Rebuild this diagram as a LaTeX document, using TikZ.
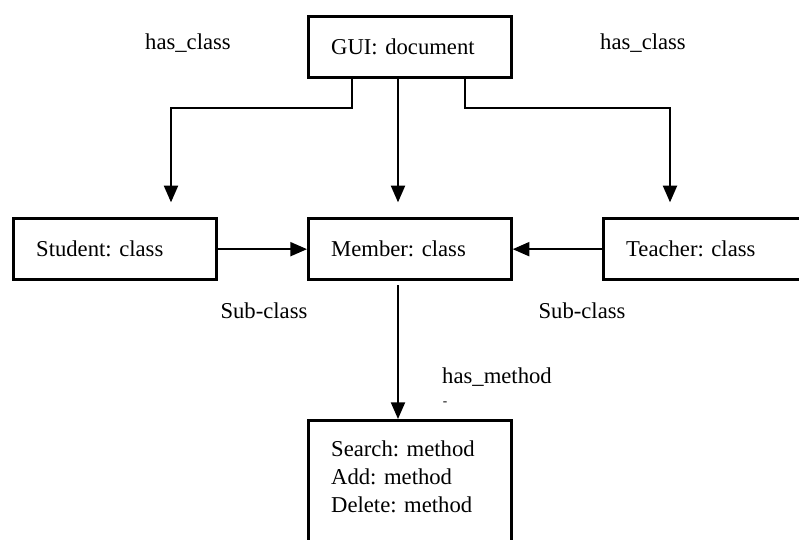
\documentclass[tikz,border=0pt]{standalone}
\usepackage{fontspec}
\setmainfont{Liberation Serif}
\usetikzlibrary{arrows.meta}
\tikzset{
  box/.style={draw, line width=2.25pt, anchor=north west, minimum height=46pt,
    text width=118pt, inner xsep=17pt, align=left},
  conn/.style={line width=1.5pt, -{Triangle[length=12.5pt,width=10.5pt]}},
  lbl/.style={inner sep=0pt}
}
\begin{document}
\frenchspacing
\begin{tikzpicture}[x=0.75pt,y=-0.75pt,font=\fontsize{17}{21}\selectfont]
                \useasboundingbox (0,0) rectangle (799,539);
                \clip (0,0) rectangle (799,539);

                % Drawing box GUI
                \node [box] (gui) at (307,15) {GUI: document};%

                % Drawing boxes of the classes
                \node [box] (student) at (12,217) {Student: class};%
                \node [box] (member) at (307,217) {Member: class};%
                \node [box] (teacher) at (602,217) {Teacher: class};%

                % Drawing box of the methods
                \node [box, minimum height=105pt] (methods) at (307,419)
                  {Search: method\\ Add: method\\ Delete: method\\ \mbox{}};%

                % Points where the lines turn
                \coordinate (jl) at (352,108);%
                \coordinate (jr) at (465,108);%
                \coordinate (sx) at (171,0);%
                \coordinate (mx) at (398,0);%
                \coordinate (tx) at (670,0);%

                % Drawing lines has_class
                \draw [conn, shorten >=11pt] (jl |- gui.south) -- (jl) -| (sx |- student.north);%
                \draw [conn, shorten >=11pt] (mx |- gui.south) -- (mx |- member.north);%
                \draw [conn, shorten >=11pt] (jr |- gui.south) -- (jr) -| (tx |- teacher.north);%

                % Drawing lines Sub-class
                \draw [conn] (student.east) -- (member.west);%
                \draw [conn] (teacher.west) -- (member.east);%

                % Drawing line has_method
                \draw [conn, shorten <=3pt] (mx |- member.south) -- (mx |- methods.north);%

                % Marking the labels
                \node [lbl] (hasclassl) at (188,43) {has\_class};%
                \node [lbl] (hasclassr) at (643,43) {has\_class};%
                \node [lbl] (subclassl) at (264,311) {Sub-class};%
                \node [lbl] (subclassr) at (582,311) {Sub-class};%
                \node [lbl] (hasmethod) at (497,377) {has\_method};%
                \node [lbl, font=\fontsize{10}{12}\selectfont] (dash) at (445,404) {-};%
\end{tikzpicture}
\end{document}
